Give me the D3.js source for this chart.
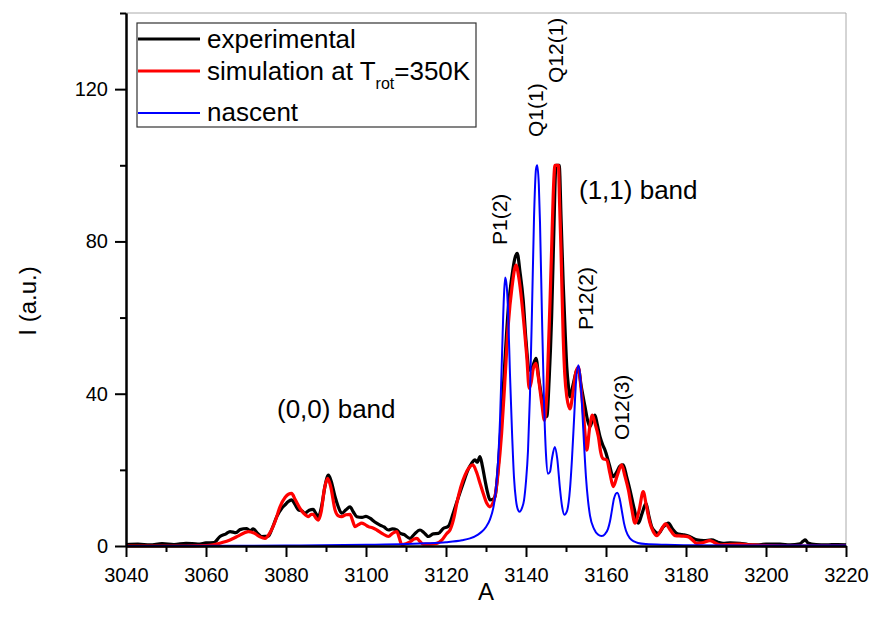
<!DOCTYPE html>
<html>
<head>
<meta charset="utf-8">
<script src="https://cdn.jsdelivr.net/npm/d3@7"></script>
<style>
  body { margin: 0; background: #fff; }
  text { font-family: "Liberation Sans", Arial, sans-serif; fill: #000; }
</style>
</head>
<body>
<svg class="chart"></svg>
<script>
const width = 873;
const height = 626;

// values: [wavelength A, intensity]
const experimental = [
  [3040,0.4],[3043,0.5],[3046,0.3],[3049,0.6],[3052,0.4],[3055,0.7],[3058,0.5],[3060,0.8],[3062,0.9],
  [3063.5,2.5],[3065,3.2],[3066,3.8],[3067.5,3.5],[3068.5,4.3],[3070.2,4.6],[3071,4.0],[3071.8,4.5],
  [3073,3.2],[3073.9,2.5],[3075.6,2.6],[3076.5,4.5],[3077.7,7.7],[3079,10],[3079.75,10.8],[3080.5,11.6],
  [3081.4,12.1],[3082.2,11],[3083.1,9.5],[3084,9.2],[3084.75,8.6],[3085.8,9.4],[3086.8,9.6],[3087.5,8.5],
  [3088.1,7.7],[3089,11],[3089.8,16],[3090.6,18.6],[3091.3,17],[3092.25,13],[3093,10.5],[3093.9,8.6],
  [3095,9.5],[3096,10.3],[3096.8,9],[3097.7,7.7],[3099,7.5],[3100,7.8],[3101,7.3],[3102.2,6.3],
  [3103.5,5.5],[3104.5,5.0],[3105.6,4.2],[3106.6,4.5],[3107.7,4.2],[3108.6,3.3],[3109.5,3.0],[3111,2.0],
  [3112,3.0],[3113.5,4.2],[3114.5,3.5],[3115.6,2.5],[3116.8,3.2],[3118.1,3.3],[3119.3,4.6],[3120.6,5.2],
  [3121.8,8.6],[3123,12.5],[3124.3,16.5],[3125.5,20],[3126.4,21.7],[3127.25,22.6],[3127.8,22],[3128.5,23.5],
  [3129.1,21],[3129.75,17.3],[3130.4,14],[3131,12.1],[3131.6,12.2],[3132.25,13],[3133,20],[3133.9,34],
  [3134.8,50],[3135.6,62.8],[3136.5,71],[3137.2,75.5],[3137.8,76.9],[3138.5,72],[3139.3,64.6],[3140,54],
  [3140.8,46.2],[3141.6,47],[3142.5,49.3],[3143.2,44],[3143.9,39.2],[3144.6,35.5],[3145.2,34],[3145.8,44],
  [3146.4,60],[3146.9,80],[3147.5,100],[3148.3,100],[3148.8,85],[3149.3,69],[3149.8,56],[3150.2,47],
  [3150.6,42],[3151,39.2],[3151.8,42.5],[3152.7,46.2],[3153.1,46.5],[3153.8,42],[3154.75,36.6],[3155.4,33],
  [3156,31.3],[3156.6,33],[3157.25,34.4],[3157.8,32],[3158.5,28.7],[3159.2,26.5],[3159.75,25.2],[3160.8,21.5],
  [3161.8,18.2],[3162.7,19.5],[3163.5,21],[3164.3,21.3],[3165.2,18],[3166,14.7],[3167,10],[3168.1,6],
  [3169,8.5],[3170,11.2],[3170.7,8],[3171.4,5.1],[3172.25,3.8],[3173.1,3.3],[3174.3,5.0],[3175.6,6],
  [3176.6,4.5],[3177.7,3.3],[3179,3.0],[3180.4,2.7],[3181.5,2.2],[3182.7,1.6],[3184.5,1.4],[3186.4,1.6],
  [3188,1.0],[3189.3,0.7],[3191,0.8],[3193.5,0.7],[3195.5,0.4],[3197.7,0.3],[3200,0.5],[3203.5,0.5],
  [3206,0.3],[3208.5,0.6],[3209.3,1.3],[3209.8,1.6],[3210.5,0.8],[3212.5,0.4],[3215,0.3],[3218,0.4],[3220,0.3]
];

const simulation = [
  [3040,0],[3055,0],[3060,0.1],[3061.8,0.3],[3064,0.9],[3066,1.6],[3068,2.6],[3069.5,3.4],[3070.6,3.8],
  [3072,3.4],[3073.5,2.4],[3074.75,2.0],[3076,3.5],[3077.3,6.5],[3078.5,10.3],[3079.8,12.8],[3080.6,13.6],
  [3081.4,13.8],[3082.3,12.2],[3083.5,9.9],[3084.5,8.5],[3085.6,7.7],[3086.3,8.3],[3086.8,8.3],[3087.5,7.3],
  [3088.1,6.8],[3088.8,9],[3089.6,15],[3090.4,17.8],[3091.2,15.5],[3092.25,9.5],[3093,8],[3093.9,7.7],
  [3095,8.2],[3096,8.3],[3096.6,6.8],[3097.25,5.1],[3098.1,5.6],[3098.9,6.0],[3099.8,5.6],[3100.6,5.1],
  [3101.6,4.8],[3102.7,4.2],[3104.2,3.2],[3105.6,2.5],[3106.7,3.4],[3107.7,3.8],[3108.3,2.2],[3108.9,0.4],
  [3110,0.6],[3111,1.1],[3112,1.8],[3112.7,2.0],[3113.5,1.2],[3114.3,0.5],[3116,0.5],[3117.7,0.7],
  [3119,1.6],[3120.2,3.3],[3121,4.2],[3122,7.5],[3122.7,11.2],[3123.7,15.5],[3124.75,18.6],[3125.8,20.6],
  [3126.7,21.3],[3127.6,19.5],[3128.5,16.5],[3129.4,13.5],[3130.2,11.2],[3131,10.3],[3131.6,11],[3132.25,13],
  [3133,19],[3133.9,29.6],[3134.7,43],[3135.6,58.5],[3136.5,68],[3137.5,73.8],[3138.2,70.5],[3138.9,64.6],
  [3139.6,57],[3140.2,49.7],[3140.8,41.4],[3141.3,43],[3141.8,46.5],[3142.5,48],[3143,45],[3143.5,41],
  [3144,37],[3144.6,33],[3145.1,38],[3145.6,51.5],[3146,64],[3146.4,77.7],[3146.8,92],[3147.25,100],
  [3148.1,100],[3148.4,90],[3148.75,77.7],[3149.3,55],[3149.7,45],[3150.2,39.2],[3151,36],[3151.7,40],
  [3152.4,45.3],[3153.1,47],[3153.7,42],[3154.3,35.7],[3154.8,29],[3155.2,25.2],[3155.9,31],[3156.6,34.4],
  [3157.3,32],[3158.1,28.7],[3158.7,24.5],[3159.2,23],[3160.2,22.6],[3161,19],[3161.8,15.6],[3162.8,18.5],
  [3163.9,21.3],[3164.7,18.5],[3165.6,14.7],[3166.4,10],[3167.25,6],[3168.3,9.5],[3169.3,14.3],[3170.1,10.5],
  [3171,6],[3171.8,3.8],[3172.7,2.7],[3173.8,4.3],[3174.9,5.8],[3176,4.3],[3177.3,2.7],[3179,2.6],
  [3180.6,2.4],[3181.6,1.6],[3182.7,0.7],[3184,0.8],[3186,1.4],[3187.3,0.8],[3188.5,0.3],[3190.5,0.4],
  [3193.5,0.5],[3196,0.3],[3200,0.1],[3205,0],[3220,0]
];

const nascent = [
  [3040,0],[3080,0.1],[3100,0.3],[3110,0.5],[3115,0.7],[3120,1.0],[3124,1.5],[3126,2.0],[3128,3.0],
  [3129,3.8],[3130,5.0],[3131,7.0],[3132,11],[3132.5,15],[3133,22],[3133.5,33],[3134,50],[3134.5,66],
  [3134.8,70.5],[3135.2,68],[3135.5,62],[3136,45],[3136.5,30],[3137,18],[3137.5,12],[3138,9.5],[3138.4,9],
  [3139,10],[3139.5,12],[3140,17],[3140.5,25],[3141,40],[3141.5,62],[3142,86],[3142.5,99],[3142.8,100],
  [3143.2,95],[3143.5,85],[3144,60],[3144.5,38],[3145,24],[3145.5,19],[3146,19.5],[3146.5,23],[3147.2,26],
  [3147.8,23],[3148.5,15],[3149,10.5],[3149.6,8.2],[3150.2,9],[3151,15],[3151.5,23],[3152,33],[3152.5,43],
  [3153.1,47.5],[3153.6,44],[3154,37],[3154.5,27],[3155,18],[3155.5,12],[3156,8],[3157,4.5],[3158,3],
  [3158.9,2.6],[3159.8,3.2],[3160.5,4.5],[3161,6.5],[3161.5,9.5],[3162,12.5],[3162.8,14],[3163.4,12.5],
  [3164,9],[3164.5,6],[3165,4],[3166,2],[3167,1.2],[3168,0.8],[3170,0.5],[3175,0.3],[3180,0.2],
  [3200,0.1],[3220,0.1]
];

const xMajorTicks = [3040, 3060, 3080, 3100, 3120, 3140, 3160, 3180, 3200, 3220];
const xMinorTicks = [3050, 3070, 3090, 3110, 3130, 3150, 3170, 3190, 3210];
const yMajorTicks = [0, 40, 80, 120];
const yMinorTicks = [20, 60, 100, 140];

const legendItems = [
  { label: 'experimental', color: '#000000' },
  { label: 'simulation at T', sub: 'rot', tail: '=350K', color: '#ff0000' },
  { label: 'nascent', color: '#0000ff' }
];

const peakLabels = [
  { text: 'P1(2)', x: 3135.2, y: 245 },
  { text: 'Q1(1)', x: 3144.3, y: 137 },
  { text: 'Q12(1)', x: 3149.3, y: 83 },
  { text: 'P12(2)', x: 3156.8, y: 330 },
  { text: 'O12(3)', x: 3165.8, y: 440 }
];

const chart = d3.select('.chart')
    .attr('width', width)
    .attr('height', height);

const xScale = d3.scaleLinear()
    .domain([3040, 3220])
    .range([126, 846]);

const yScale = d3.scaleLinear()
    .domain([0, 140])
    .range([546, 13]);

/*----- FRAME ------*/
chart.append('line')
    .attr('x1', xScale(3040)).attr('x2', xScale(3220))
    .attr('y1', yScale(140)).attr('y2', yScale(140))
    .attr('stroke', '#aaa').attr('stroke-width', 1);
chart.append('line')
    .attr('x1', xScale(3220)).attr('x2', xScale(3220))
    .attr('y1', yScale(140)).attr('y2', yScale(0))
    .attr('stroke', '#aaa').attr('stroke-width', 1);

/*----- LINES ------*/
const line = d3.line()
    .x(d => xScale(d[0]))
    .y(d => yScale(d[1]))
    .curve(d3.curveMonotoneX);

chart.append('path')
    .datum(experimental)
    .attr('fill', 'none')
    .attr('stroke', '#000')
    .attr('stroke-width', 3.2)
    .attr('stroke-linejoin', 'round')
    .attr('d', line);

chart.append('path')
    .datum(simulation)
    .attr('fill', 'none')
    .attr('stroke', '#ff0000')
    .attr('stroke-width', 3.2)
    .attr('stroke-linejoin', 'round')
    .attr('d', line);

chart.append('path')
    .datum(nascent)
    .attr('fill', 'none')
    .attr('stroke', '#0000ff')
    .attr('stroke-width', 2)
    .attr('stroke-linejoin', 'round')
    .attr('d', line);

/*----- AXES ------*/
const xAxis = d3.axisBottom(xScale)
    .tickValues(xMajorTicks)
    .tickFormat(d3.format('d'))
    .tickSize(11)
    .tickSizeOuter(0)
    .tickPadding(11);

const xMinor = d3.axisBottom(xScale)
    .tickValues(xMinorTicks)
    .tickFormat('')
    .tickSize(6)
    .tickSizeOuter(0);

const yAxis = d3.axisLeft(yScale)
    .tickValues(yMajorTicks)
    .tickSize(11)
    .tickSizeOuter(0)
    .tickPadding(7);

const yMinor = d3.axisLeft(yScale)
    .tickValues(yMinorTicks)
    .tickFormat('')
    .tickSize(6)
    .tickSizeOuter(0);

chart.append('g')
    .attr('transform', `translate(0, ${yScale(0)})`)
    .call(xMinor);

chart.append('g')
    .attr('id', 'x-axis')
    .attr('transform', `translate(0, ${yScale(0)})`)
    .style('font-size', '20px')
    .call(xAxis);

chart.append('g')
    .attr('transform', `translate(${xScale(3040)}, 0)`)
    .call(yMinor);

chart.append('g')
    .attr('id', 'y-axis')
    .attr('transform', `translate(${xScale(3040)}, 0)`)
    .style('font-size', '20px')
    .call(yAxis);

chart.selectAll('.domain').attr('stroke-width', 2);
chart.selectAll('.tick line').attr('stroke-width', 2);
chart.selectAll('.tick text').attr('font-family', '"Liberation Sans", Arial, sans-serif');

chart.append('text')
    .attr('x', 486)
    .attr('y', 600)
    .attr('text-anchor', 'middle')
    .style('font-size', '24px')
    .text('A');

chart.append('text')
    .attr('transform', 'translate(36, 301) rotate(-90)')
    .attr('text-anchor', 'middle')
    .style('font-size', '24px')
    .text('I (a.u.)');

/*----- ANNOTATIONS ------*/
chart.append('text')
    .attr('x', 277).attr('y', 418)
    .style('font-size', '26px')
    .text('(0,0) band');

chart.append('text')
    .attr('x', 579).attr('y', 199)
    .style('font-size', '26px')
    .text('(1,1) band');

chart.selectAll('.peak-label')
    .data(peakLabels)
    .enter()
    .append('text')
    .attr('class', 'peak-label')
    .attr('transform', d => `translate(${xScale(d.x)}, ${d.y}) rotate(-90)`)
    .style('font-size', '21px')
    .text(d => d.text);

/*----- LEGEND ------*/
const legend = chart.append('g');

legend.append('rect')
    .attr('x', 137).attr('y', 23)
    .attr('width', 339).attr('height', 104)
    .attr('fill', '#fff')
    .attr('stroke', '#333')
    .attr('stroke-width', 1.2);

const rowY = [39, 71, 113];
const rowBase = [48, 80, 121];

legendItems.forEach((item, i) => {
    legend.append('line')
        .attr('x1', 138).attr('x2', 200)
        .attr('y1', rowY[i]).attr('y2', rowY[i])
        .attr('stroke', item.color)
        .attr('stroke-width', i === 2 ? 2 : 3);

    const t = legend.append('text')
        .attr('x', 207).attr('y', rowBase[i])
        .style('font-size', '26px');
    t.append('tspan').text(item.label);
    if (item.sub) {
        t.append('tspan').attr('dy', 9).style('font-size', '16px').text(item.sub);
        t.append('tspan').attr('dy', -9).text(item.tail);
    }
});
</script>
</body>
</html>
